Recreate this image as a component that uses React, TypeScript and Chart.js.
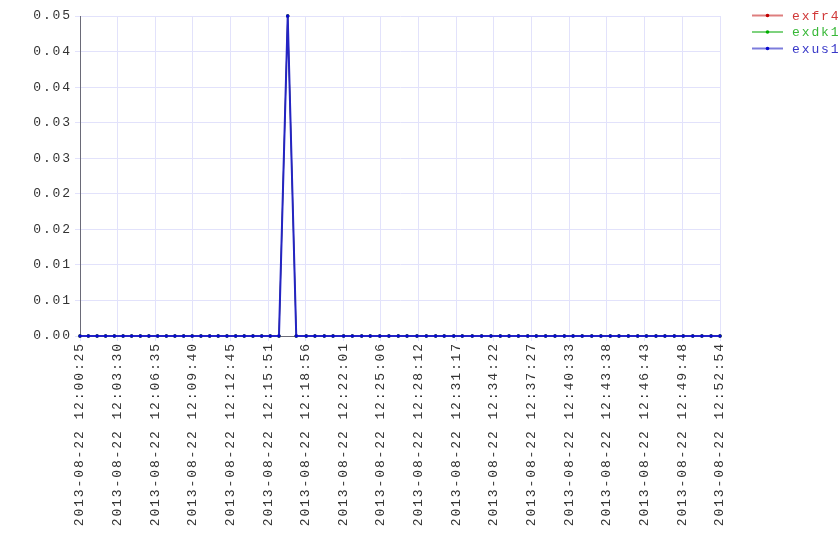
import React, { useEffect, useRef } from 'react';
import { Chart, registerables } from 'chart.js';

Chart.register(...registerables);

const DATE = '2013-08-22';

const TIMES = [
  '12:00:25', '12:01:06', '12:01:49', '12:02:31', '12:03:14', '12:03:57', '12:04:39', '12:05:22',
  '12:06:04', '12:06:47', '12:07:30', '12:08:12', '12:08:55', '12:09:37', '12:10:20', '12:11:03',
  '12:11:45', '12:12:28', '12:13:11', '12:13:53', '12:14:36', '12:15:19', '12:16:01', '12:16:44',
  '12:17:27', '12:18:09', '12:18:58', '12:19:41', '12:20:27', '12:21:10', '12:22:02', '12:22:45',
  '12:23:31', '12:24:13', '12:25:00', '12:25:45', '12:26:31', '12:27:14', '12:28:03', '12:28:49',
  '12:29:35', '12:30:17', '12:31:04', '12:31:46', '12:32:35', '12:33:21', '12:34:07', '12:34:53',
  '12:35:36', '12:36:22', '12:37:08', '12:37:50', '12:38:36', '12:39:22', '12:40:08', '12:40:51',
  '12:41:36', '12:42:23', '12:43:08', '12:43:54', '12:44:37', '12:45:23', '12:46:09', '12:46:52',
  '12:47:39', '12:48:23', '12:49:09', '12:49:53', '12:50:40', '12:51:25', '12:52:10', '12:52:54',
];

const EXFR4 = [
  0, 0, 0, 0, 0, 0, 0, 0, 0, 0, 0, 0, 0, 0, 0, 0, 0, 0, 0, 0, 0, 0, 0, 0,
  0.05, 0, 0, 0, 0, 0, 0, 0, 0, 0, 0, 0, 0, 0, 0, 0, 0, 0, 0, 0, 0, 0, 0, 0,
  0, 0, 0, 0, 0, 0, 0, 0, 0, 0, 0, 0, 0, 0, 0, 0, 0, 0, 0, 0, 0, 0, 0, 0,
];
const EXDK1 = [
  0, 0, 0, 0, 0, 0, 0, 0, 0, 0, 0, 0, 0, 0, 0, 0, 0, 0, 0, 0, 0, 0, 0, 0,
  0.05, 0, 0, 0, 0, 0, 0, 0, 0, 0, 0, 0, 0, 0, 0, 0, 0, 0, 0, 0, 0, 0, 0, 0,
  0, 0, 0, 0, 0, 0, 0, 0, 0, 0, 0, 0, 0, 0, 0, 0, 0, 0, 0, 0, 0, 0, 0, 0,
];
const EXUS1 = [
  0, 0, 0, 0, 0, 0, 0, 0, 0, 0, 0, 0, 0, 0, 0, 0, 0, 0, 0, 0, 0, 0, 0, 0,
  0.05, 0, 0, 0, 0, 0, 0, 0, 0, 0, 0, 0, 0, 0, 0, 0, 0, 0, 0, 0, 0, 0, 0, 0,
  0, 0, 0, 0, 0, 0, 0, 0, 0, 0, 0, 0, 0, 0, 0, 0, 0, 0, 0, 0, 0, 0, 0, 0,
];

const SERIES_NAMES = ['exfr4', 'exdk1', 'exus1'];
const LINE_COLORS = ['#c82828', '#28b428', '#2424c4'];
const POINT_COLORS = ['#c00000', '#00b000', '#0808d0'];
const LINE_WIDTHS = [1, 1, 2];
const LEGEND_TEXT_COLORS = ['#d03838', '#38b838', '#3838c8'];

const X_TICK_TIMES = [
  '12:00:25', '12:03:30', '12:06:35', '12:09:40', '12:12:45', '12:15:51', '12:18:56', '12:22:01',
  '12:25:06', '12:28:12', '12:31:17', '12:34:22', '12:37:27', '12:40:33', '12:43:38', '12:46:43',
  '12:49:48', '12:52:54',
];

const Y_TICK_VALUES = [0, 0.00556, 0.01111, 0.01667, 0.02222, 0.02778, 0.03333, 0.03889, 0.04444, 0.05];

const FONT = '"Liberation Mono", "Courier New", monospace';
const LETTER_SPACING = '1.9px';

const toSec = (t: string) => {
  const [h, m, s] = t.split(':').map(Number);
  return h * 3600 + m * 60 + s;
};
const pad = (n: number) => String(n).padStart(2, '0');
const fmtTime = (v: number) => {
  const t = Math.round(v);
  const h = Math.floor(t / 3600);
  const m = Math.floor((t % 3600) / 60);
  const s = t % 60;
  return `${DATE} ${pad(h)}:${pad(m)}:${pad(s)}`;
};

const setSpacing = (c: any) => {
  if (c.ctx) (c.ctx as any).letterSpacing = LETTER_SPACING;
};

const spacingPlugin = {
  id: 'spacing',
  beforeUpdate: setSpacing,
  beforeLayout: setSpacing,
  beforeDraw: setSpacing,
  beforeDatasetsDraw: setSpacing,
};

const legendPlugin = {
  id: 'customLegend',
  afterDraw(c: any) {
    const ctx = c.ctx as CanvasRenderingContext2D;
    ctx.save();
    (ctx as any).letterSpacing = LETTER_SPACING;
    ctx.font = `13px ${FONT}`;
    ctx.textBaseline = 'middle';
    ctx.textAlign = 'left';
    c.data.datasets.forEach((ds: any, i: number) => {
      const y = 15.5 + i * 16.5;
      ctx.globalAlpha = 0.6;
      ctx.strokeStyle = LINE_COLORS[i];
      ctx.lineWidth = 2;
      ctx.beginPath();
      ctx.moveTo(752, y);
      ctx.lineTo(783, y);
      ctx.stroke();
      ctx.globalAlpha = 1;
      ctx.fillStyle = POINT_COLORS[i];
      ctx.beginPath();
      ctx.arc(767.5, y, 1.8, 0, Math.PI * 2);
      ctx.fill();
      ctx.fillStyle = LEGEND_TEXT_COLORS[i];
      ctx.fillText(ds.label, 792, y + 1);
    });
    ctx.restore();
  },
};

export default function App() {
  const ref = useRef<HTMLCanvasElement>(null);

  useEffect(() => {
    document.body.style.margin = '0';
    const canvas = ref.current;
    if (!canvas) return;
    const xs = TIMES.map(toSec);
    const seriesValues = [EXFR4, EXDK1, EXUS1];
    const xTickVals = X_TICK_TIMES.map(toSec);

    const chart = new Chart(canvas, {
      type: 'line',
      data: {
        datasets: seriesValues.map((vals, i) => ({
          label: SERIES_NAMES[i],
          data: vals.map((v, j) => ({ x: xs[j], y: v })),
          order: seriesValues.length - i,
          clip: false,
          borderColor: LINE_COLORS[i],
          backgroundColor: POINT_COLORS[i],
          pointBackgroundColor: POINT_COLORS[i],
          borderWidth: LINE_WIDTHS[i],
          pointRadius: 1.7,
          pointBorderWidth: 0,
          pointHoverRadius: 1.7,
          tension: 0,
          fill: false,
        })),
      },
      options: {
        responsive: false,
        animation: false,
        devicePixelRatio: 1,
        layout: { padding: { top: 16, right: 120, left: 0, bottom: 0 } },
        plugins: {
          legend: { display: false },
          tooltip: { enabled: false },
        },
        font: { family: FONT, size: 13 },
        scales: {
          x: {
            type: 'linear',
            min: xTickVals[0],
            max: xTickVals[xTickVals.length - 1],
            afterBuildTicks: (scale: any) => {
              scale.ticks = xTickVals.map((v) => ({ value: v }));
            },
            afterFit: (scale: any) => {
              scale.height = 224;
            },
            ticks: {
              autoSkip: false,
              maxRotation: 90,
              minRotation: 90,
              padding: 1,
              color: '#333',
              font: { family: FONT, size: 13 },
              callback: (v: any) => fmtTime(Number(v)),
            },
            grid: {
              color: '#e2e2fb',
              lineWidth: 1,
              tickLength: 5,
            },
            border: { color: '#6a6a78', width: 1 },
          },
          y: {
            type: 'linear',
            min: 0,
            max: 0.05,
            afterBuildTicks: (scale: any) => {
              scale.ticks = Y_TICK_VALUES.map((v) => ({ value: v }));
            },
            afterFit: (scale: any) => {
              scale.width = 80;
            },
            ticks: {
              padding: 3,
              color: '#333',
              font: { family: FONT, size: 13 },
              callback: (v: any) => Number(v).toFixed(2),
            },
            grid: {
              color: '#e2e2fb',
              lineWidth: 1,
              tickLength: 5,
            },
            border: { color: '#6a6a78', width: 1 },
          },
        },
      } as any,
      plugins: [spacingPlugin, legendPlugin],
    });
    return () => chart.destroy();
  }, []);

  return (
    <div style={{ width: 840, height: 560 }}>
      <canvas ref={ref} width={840} height={560} style={{ width: 840, height: 560, display: 'block' }} />
    </div>
  );
}
